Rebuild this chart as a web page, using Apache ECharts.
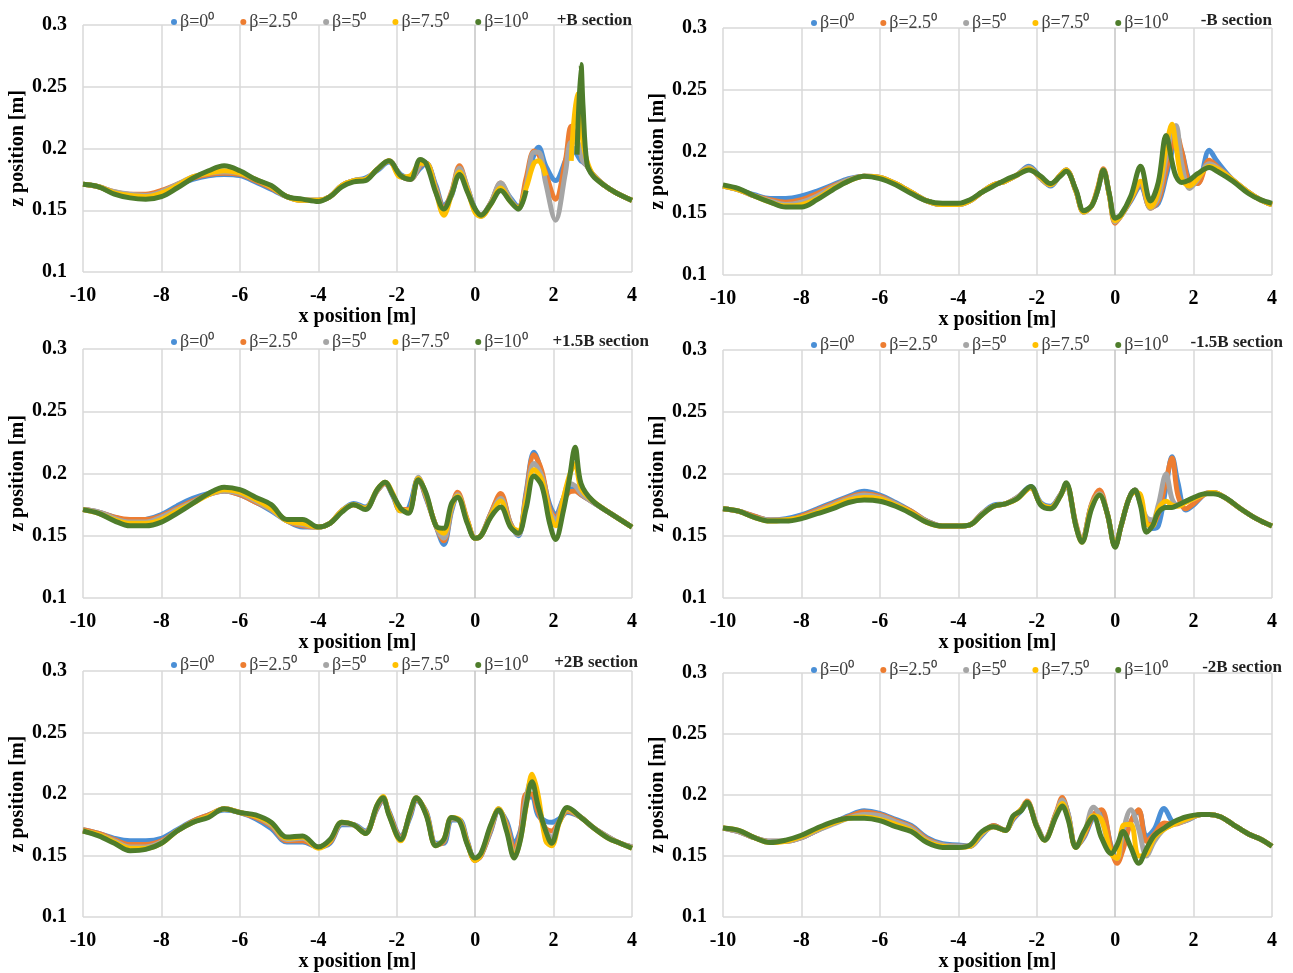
<!DOCTYPE html>
<html>
<head>
<meta charset="utf-8">
<title>z position vs x position</title>
<script src="https://cdn.jsdelivr.net/npm/echarts@6/dist/echarts.min.js"></script>
<style>
  html, body { margin: 0; background: #fff; }
  #main { width: 1293px; height: 973px; }
</style>
</head>
<body>
<div id="main"></div>
<script>
// legend names and colours
var betaNames = ['β=0⁰', 'β=2.5⁰', 'β=5⁰', 'β=7.5⁰', 'β=10⁰'];
var betaColors = ['#4a8fd6', '#ed7d31', '#a5a5a5', '#ffc000', '#4e7d2b'];

// +B section
var xPB = [-10,-9.6,-9.2,-8.8,-8.4,-8,-7.6,-7.2,-6.8,-6.4,-6,-5.6,-5.2,-4.8,-4.4,-4,-3.7,-3.4,-3.1,-2.8,-2.5,-2.2,-1.9,-1.65,-1.4,-1.25,-1,-0.8,-0.6,-0.4,-0.2,0,0.15,0.4,0.65,0.9,1.1,1.3,1.5,1.62,1.8,2.05,2.3,2.45,2.6,2.7,2.75,2.85,3,3.3,3.6,4];
var zPB_b0 = [0.171,0.169,0.164,0.162,0.162,0.165,0.170,0.175,0.178,0.179,0.178,0.173,0.167,0.161,0.158,0.158,0.161,0.170,0.174,0.176,0.182,0.189,0.179,0.176,0.184,0.188,0.170,0.154,0.162,0.183,0.168,0.151,0.146,0.156,0.170,0.160,0.153,0.172,0.195,0.201,0.186,0.174,0.190,0.202,0.195,0.190,0.189,0.186,0.179,0.170,0.164,0.158];
var zPB_b25 = [0.171,0.169,0.165,0.163,0.163,0.166,0.171,0.176,0.179,0.180,0.179,0.174,0.168,0.161,0.158,0.158,0.161,0.170,0.174,0.175,0.183,0.190,0.178,0.175,0.186,0.188,0.168,0.152,0.165,0.186,0.168,0.150,0.146,0.156,0.172,0.158,0.152,0.176,0.198,0.195,0.180,0.159,0.190,0.218,0.205,0.195,0.190,0.186,0.179,0.170,0.164,0.158];
var zPB_b5 = [0.171,0.169,0.165,0.163,0.162,0.165,0.171,0.177,0.180,0.181,0.180,0.175,0.169,0.161,0.158,0.158,0.161,0.170,0.174,0.175,0.183,0.190,0.178,0.175,0.187,0.188,0.167,0.150,0.164,0.184,0.169,0.150,0.145,0.156,0.172,0.159,0.151,0.170,0.197,0.197,0.172,0.142,0.180,0.205,0.205,0.195,0.190,0.186,0.179,0.170,0.164,0.158];
var zPB_b75 = [0.171,0.169,0.164,0.162,0.161,0.164,0.170,0.177,0.180,0.182,0.180,0.175,0.169,0.161,0.158,0.158,0.161,0.170,0.174,0.175,0.183,0.190,0.177,0.178,0.188,0.188,0.165,0.146,0.163,0.181,0.167,0.148,0.145,0.155,0.168,0.157,0.152,0.168,0.188,0.190,0.178,null,null,0.190,0.244,0.220,0.205,0.190,0.179,0.170,0.164,0.158];
var zPB_b10 = [0.171,0.169,0.163,0.160,0.159,0.161,0.168,0.176,0.182,0.186,0.182,0.175,0.170,0.161,0.159,0.157,0.161,0.169,0.173,0.174,0.183,0.190,0.178,0.175,0.191,0.188,0.164,0.151,0.163,0.179,0.165,0.151,0.146,0.155,0.166,0.157,0.151,0.166,null,null,null,null,null,null,0.195,0.268,0.235,0.188,0.178,0.170,0.164,0.158];

// -B section
var xMB = [-10,-9.6,-9.2,-8.8,-8.4,-8,-7.6,-7.2,-6.8,-6.4,-6,-5.6,-5.2,-4.8,-4.4,-4,-3.7,-3.4,-3.1,-2.8,-2.5,-2.2,-1.9,-1.65,-1.4,-1.25,-1,-0.8,-0.6,-0.45,-0.3,-0.15,0,0.15,0.4,0.65,0.9,1.1,1.3,1.45,1.55,1.7,1.9,2.1,2.4,2.6,3,3.4,3.7,4];
var zMB_b0 = [0.172,0.169,0.165,0.162,0.162,0.164,0.168,0.173,0.178,0.180,0.179,0.174,0.167,0.160,0.157,0.157,0.160,0.167,0.173,0.176,0.181,0.188,0.179,0.172,0.181,0.185,0.168,0.151,0.156,0.168,0.184,0.165,0.144,0.148,0.160,0.172,0.155,0.158,0.180,0.200,0.210,0.200,0.176,0.174,0.201,0.192,0.177,0.167,0.161,0.157];
var zMB_b25 = [0.172,0.169,0.164,0.161,0.159,0.161,0.166,0.172,0.177,0.180,0.179,0.174,0.167,0.160,0.157,0.157,0.160,0.167,0.173,0.176,0.181,0.187,0.178,0.173,0.181,0.185,0.168,0.151,0.156,0.170,0.186,0.165,0.142,0.148,0.161,0.174,0.154,0.160,0.185,0.205,0.215,0.200,0.175,0.174,0.193,0.188,0.177,0.167,0.161,0.157];
var zMB_b5 = [0.172,0.169,0.164,0.160,0.157,0.159,0.164,0.171,0.177,0.180,0.179,0.174,0.167,0.160,0.157,0.157,0.160,0.167,0.173,0.176,0.181,0.187,0.178,0.173,0.181,0.185,0.168,0.151,0.156,0.169,0.185,0.165,0.143,0.148,0.162,0.175,0.154,0.163,0.195,0.217,0.221,0.190,0.170,0.177,0.190,0.187,0.177,0.167,0.161,0.157];
var zMB_b75 = [0.172,0.169,0.164,0.159,0.156,0.157,0.162,0.170,0.176,0.180,0.179,0.174,0.167,0.160,0.157,0.157,0.160,0.167,0.173,0.176,0.181,0.186,0.179,0.173,0.181,0.185,0.168,0.151,0.156,0.169,0.185,0.165,0.144,0.148,0.162,0.176,0.155,0.168,0.203,0.222,0.205,0.178,0.172,0.178,0.188,0.186,0.177,0.167,0.161,0.157];
var zMB_b10 = [0.173,0.170,0.164,0.159,0.155,0.155,0.161,0.169,0.176,0.180,0.178,0.173,0.166,0.160,0.158,0.158,0.161,0.167,0.172,0.177,0.181,0.185,0.180,0.174,0.180,0.184,0.169,0.152,0.156,0.168,0.185,0.166,0.146,0.149,0.164,0.188,0.160,0.175,0.213,0.192,0.180,0.175,0.177,0.182,0.187,0.184,0.176,0.166,0.161,0.158];

// +1.5B section
var xP15 = [-10,-9.6,-9.2,-8.8,-8.4,-8,-7.6,-7.2,-6.8,-6.4,-6,-5.6,-5.2,-4.8,-4.4,-4,-3.7,-3.4,-3.1,-2.8,-2.5,-2.3,-2.1,-1.9,-1.7,-1.45,-1.25,-1,-0.8,-0.6,-0.45,-0.2,0,0.15,0.4,0.65,0.9,1.1,1.3,1.5,1.7,1.9,2.05,2.25,2.4,2.55,2.7,3,3.5,4];
var zP15_b0 = [0.171,0.169,0.165,0.162,0.163,0.167,0.174,0.180,0.184,0.186,0.183,0.177,0.170,0.162,0.157,0.157,0.160,0.170,0.176,0.173,0.186,0.192,0.182,0.170,0.172,0.196,0.180,0.158,0.143,0.170,0.182,0.162,0.148,0.150,0.168,0.182,0.160,0.150,0.185,0.217,0.200,0.175,0.167,0.180,0.188,0.187,0.183,0.177,0.167,0.157];
var zP15_b25 = [0.171,0.169,0.165,0.163,0.163,0.166,0.172,0.178,0.183,0.186,0.183,0.177,0.171,0.162,0.158,0.157,0.160,0.170,0.175,0.172,0.186,0.192,0.183,0.171,0.171,0.196,0.181,0.158,0.146,0.172,0.185,0.163,0.148,0.150,0.168,0.184,0.160,0.151,0.183,0.215,0.202,0.172,0.165,0.178,0.185,0.186,0.183,0.177,0.167,0.157];
var zP15_b5 = [0.171,0.169,0.164,0.161,0.161,0.165,0.171,0.177,0.183,0.186,0.184,0.178,0.171,0.162,0.159,0.157,0.160,0.170,0.175,0.172,0.186,0.193,0.183,0.171,0.170,0.197,0.182,0.158,0.148,0.172,0.183,0.162,0.148,0.150,0.167,0.180,0.159,0.151,0.180,0.208,0.198,0.170,0.163,0.180,0.192,0.190,0.184,0.177,0.167,0.157];
var zP15_b75 = [0.171,0.168,0.163,0.160,0.160,0.163,0.170,0.176,0.183,0.187,0.185,0.179,0.172,0.162,0.160,0.157,0.160,0.170,0.175,0.172,0.187,0.193,0.184,0.170,0.170,0.196,0.183,0.158,0.152,0.174,0.182,0.162,0.148,0.150,0.166,0.178,0.158,0.154,0.178,0.203,0.195,0.168,0.158,0.180,0.198,0.208,0.188,0.178,0.167,0.157];
var zP15_b10 = [0.171,0.168,0.162,0.158,0.158,0.161,0.168,0.176,0.184,0.189,0.187,0.181,0.175,0.163,0.163,0.157,0.160,0.169,0.175,0.171,0.187,0.193,0.183,0.172,0.168,0.195,0.184,0.158,0.156,0.176,0.181,0.160,0.148,0.150,0.165,0.173,0.157,0.152,0.172,0.198,0.190,0.160,0.147,0.170,0.195,0.221,0.192,0.178,0.167,0.157];

// -1.5B section
var xM15 = [-10,-9.6,-9.2,-8.8,-8.4,-8,-7.6,-7.2,-6.8,-6.4,-6,-5.6,-5.2,-4.8,-4.4,-4,-3.7,-3.4,-3.1,-2.8,-2.5,-2.15,-1.9,-1.65,-1.4,-1.25,-1,-0.85,-0.6,-0.4,-0.2,0,0.15,0.35,0.5,0.65,0.8,0.95,1.1,1.3,1.45,1.6,1.8,2,2.3,2.5,2.8,3.2,3.6,4];
var zM15_b0 = [0.172,0.170,0.166,0.163,0.164,0.167,0.172,0.177,0.182,0.186,0.183,0.177,0.170,0.162,0.158,0.158,0.159,0.168,0.175,0.176,0.181,0.190,0.177,0.174,0.183,0.190,0.158,0.146,0.175,0.183,0.168,0.142,0.158,0.180,0.187,0.176,0.162,0.156,0.158,0.190,0.214,0.193,0.171,0.175,0.184,0.185,0.181,0.172,0.164,0.158];
var zM15_b25 = [0.172,0.170,0.166,0.163,0.163,0.166,0.171,0.176,0.181,0.184,0.182,0.176,0.170,0.162,0.158,0.158,0.159,0.168,0.174,0.176,0.181,0.189,0.176,0.173,0.183,0.191,0.160,0.146,0.176,0.187,0.168,0.142,0.158,0.180,0.187,0.176,0.163,0.160,0.168,0.195,0.213,0.183,0.172,0.176,0.184,0.185,0.181,0.172,0.164,0.158];
var zM15_b5 = [0.172,0.170,0.165,0.163,0.163,0.165,0.170,0.175,0.180,0.183,0.181,0.176,0.169,0.162,0.158,0.158,0.159,0.168,0.174,0.176,0.181,0.189,0.176,0.173,0.183,0.191,0.159,0.146,0.175,0.184,0.168,0.142,0.158,0.180,0.187,0.176,0.165,0.163,0.175,0.200,0.180,0.175,0.178,0.180,0.184,0.185,0.181,0.172,0.164,0.158];
var zM15_b75 = [0.172,0.170,0.165,0.162,0.163,0.165,0.169,0.174,0.179,0.181,0.180,0.175,0.169,0.161,0.158,0.158,0.159,0.167,0.174,0.176,0.180,0.189,0.176,0.173,0.182,0.192,0.158,0.145,0.174,0.183,0.168,0.142,0.158,0.180,0.185,0.183,0.160,0.158,0.172,0.178,0.175,0.174,0.177,0.180,0.184,0.185,0.181,0.172,0.164,0.158];
var zM15_b10 = [0.172,0.170,0.165,0.162,0.162,0.164,0.168,0.172,0.177,0.179,0.178,0.174,0.168,0.161,0.158,0.158,0.159,0.167,0.174,0.176,0.180,0.190,0.175,0.172,0.182,0.193,0.158,0.145,0.172,0.183,0.168,0.141,0.158,0.180,0.187,0.174,0.153,0.158,0.169,0.173,0.173,0.175,0.178,0.181,0.184,0.184,0.181,0.172,0.164,0.158];

// +2B section
var xP2 = [-10,-9.6,-9.2,-8.8,-8.4,-8,-7.6,-7.2,-6.8,-6.4,-6,-5.6,-5.2,-4.8,-4.4,-4,-3.7,-3.4,-3.1,-2.8,-2.5,-2.35,-2.2,-1.9,-1.65,-1.5,-1.25,-1,-0.8,-0.6,-0.4,-0.2,0,0.15,0.4,0.6,0.8,1,1.15,1.3,1.45,1.6,1.8,1.95,2.15,2.35,2.7,3,3.4,3.7,4];
var zP2_b0 = [0.171,0.168,0.164,0.162,0.162,0.164,0.171,0.178,0.183,0.187,0.185,0.180,0.172,0.161,0.161,0.157,0.160,0.175,0.175,0.170,0.188,0.195,0.186,0.166,0.182,0.195,0.186,0.160,0.160,0.179,0.179,0.162,0.146,0.150,0.170,0.186,0.178,0.160,0.170,0.195,0.198,0.183,0.178,0.177,0.180,0.185,0.181,0.173,0.165,0.160,0.157];
var zP2_b25 = [0.171,0.168,0.163,0.159,0.159,0.162,0.170,0.178,0.183,0.188,0.185,0.181,0.174,0.162,0.162,0.157,0.161,0.176,0.175,0.169,0.189,0.196,0.185,0.165,0.184,0.196,0.185,0.159,0.161,0.180,0.179,0.161,0.146,0.150,0.171,0.187,0.176,0.155,0.168,0.200,0.200,0.186,0.172,0.170,0.178,0.186,0.181,0.173,0.165,0.160,0.157];
var zP2_b5 = [0.170,0.167,0.162,0.157,0.157,0.161,0.170,0.177,0.182,0.188,0.185,0.182,0.175,0.163,0.164,0.157,0.162,0.176,0.175,0.169,0.190,0.197,0.184,0.164,0.185,0.197,0.184,0.159,0.162,0.180,0.179,0.160,0.147,0.151,0.172,0.188,0.174,0.151,0.165,0.197,0.213,0.192,0.170,0.165,0.178,0.187,0.181,0.173,0.165,0.160,0.157];
var zP2_b75 = [0.170,0.167,0.161,0.156,0.156,0.160,0.170,0.177,0.182,0.188,0.185,0.182,0.176,0.164,0.165,0.156,0.162,0.177,0.175,0.168,0.191,0.198,0.184,0.162,0.186,0.197,0.184,0.158,0.163,0.181,0.179,0.160,0.146,0.151,0.174,0.188,0.172,0.149,0.163,0.190,0.216,0.200,0.162,0.158,0.177,0.188,0.181,0.173,0.164,0.160,0.156];
var zP2_b10 = [0.170,0.166,0.160,0.154,0.155,0.160,0.170,0.177,0.181,0.188,0.185,0.183,0.177,0.165,0.166,0.157,0.163,0.177,0.175,0.168,0.191,0.197,0.183,0.163,0.186,0.197,0.183,0.158,0.163,0.181,0.178,0.159,0.148,0.152,0.175,0.187,0.170,0.148,0.162,0.191,0.210,0.191,0.170,0.160,0.178,0.189,0.181,0.173,0.164,0.160,0.156];

// -2B section
var xM2 = [-10,-9.6,-9.2,-8.8,-8.4,-8,-7.6,-7.2,-6.8,-6.4,-6,-5.6,-5.2,-4.8,-4.4,-4,-3.7,-3.4,-3.1,-2.8,-2.6,-2.4,-2.25,-2,-1.8,-1.5,-1.35,-1.2,-1,-0.8,-0.55,-0.35,-0.1,0.05,0.2,0.4,0.6,0.8,1,1.25,1.5,1.8,2.2,2.4,2.7,3,3.4,3.7,4];
var zM2_b0 = [0.173,0.170,0.165,0.162,0.162,0.165,0.171,0.177,0.183,0.187,0.185,0.180,0.175,0.165,0.160,0.159,0.158,0.167,0.175,0.171,0.180,0.187,0.193,0.175,0.164,0.185,0.196,0.185,0.158,0.165,0.182,0.185,0.158,0.146,0.158,0.178,0.187,0.166,0.172,0.189,0.178,0.179,0.184,0.184,0.182,0.176,0.168,0.164,0.158];
var zM2_b25 = [0.173,0.170,0.165,0.162,0.162,0.165,0.171,0.177,0.182,0.186,0.184,0.179,0.174,0.164,0.159,0.158,0.158,0.168,0.175,0.171,0.181,0.188,0.195,0.175,0.164,0.186,0.198,0.184,0.158,0.166,0.184,0.188,0.156,0.144,0.155,0.178,0.188,0.162,0.168,0.177,0.176,0.179,0.184,0.184,0.182,0.176,0.168,0.164,0.158];
var zM2_b5 = [0.173,0.170,0.165,0.162,0.162,0.165,0.171,0.176,0.181,0.184,0.183,0.178,0.173,0.163,0.159,0.158,0.158,0.168,0.174,0.171,0.182,0.188,0.194,0.175,0.164,0.185,0.196,0.184,0.158,0.167,0.190,0.180,0.152,0.148,0.170,0.188,0.172,0.150,0.162,0.172,0.176,0.179,0.184,0.184,0.182,0.176,0.168,0.164,0.158];
var zM2_b75 = [0.173,0.171,0.165,0.161,0.162,0.166,0.172,0.177,0.181,0.182,0.180,0.176,0.171,0.162,0.158,0.157,0.158,0.169,0.174,0.171,0.182,0.188,0.194,0.174,0.163,0.184,0.193,0.182,0.157,0.168,0.183,0.180,0.152,0.148,0.175,0.176,0.150,0.152,0.165,0.172,0.176,0.180,0.184,0.184,0.182,0.176,0.168,0.164,0.158];
var zM2_b10 = [0.173,0.171,0.165,0.161,0.163,0.167,0.173,0.178,0.181,0.181,0.179,0.174,0.170,0.161,0.157,0.157,0.159,0.170,0.174,0.171,0.183,0.187,0.194,0.174,0.163,0.183,0.191,0.180,0.157,0.170,0.182,0.165,0.152,0.159,0.170,0.157,0.144,0.156,0.167,0.173,0.178,0.182,0.184,0.184,0.182,0.176,0.168,0.164,0.158];

var xTicks = [-10, -8, -6, -4, -2, 0, 2, 4];
var yTicks = [0.1, 0.15, 0.2, 0.25, 0.3];

// panel boxes, legend and section labels
var panels = [
  { x: xPB,  z: [zPB_b0, zPB_b25, zPB_b5, zPB_b75, zPB_b10],      title: '+B section',    left: 83,  top: 25,  height: 247, titleRight: 661, titleTop: 12,  legendTop: 8 },
  { x: xMB,  z: [zMB_b0, zMB_b25, zMB_b5, zMB_b75, zMB_b10],      title: '-B section',    left: 723, top: 28,  height: 247, titleRight: 21,  titleTop: 12,  legendTop: 9 },
  { x: xP15, z: [zP15_b0, zP15_b25, zP15_b5, zP15_b75, zP15_b10], title: '+1.5B section', left: 83,  top: 349, height: 249, titleRight: 644, titleTop: 333, legendTop: 328 },
  { x: xM15, z: [zM15_b0, zM15_b25, zM15_b5, zM15_b75, zM15_b10], title: '-1.5B section', left: 723, top: 350, height: 248, titleRight: 10,  titleTop: 334, legendTop: 331 },
  { x: xP2,  z: [zP2_b0, zP2_b25, zP2_b5, zP2_b75, zP2_b10],      title: '+2B section',   left: 83,  top: 671, height: 249, titleRight: 655, titleTop: 654, legendTop: 651 },
  { x: xM2,  z: [zM2_b0, zM2_b25, zM2_b5, zM2_b75, zM2_b10],      title: '-2B section',   left: 723, top: 673, height: 244, titleRight: 11,  titleTop: 659, legendTop: 656 }
];

var serif = '"Liberation Serif", "Times New Roman", serif';
var gridColor = '#d9d9d9';

function pairs(xs, zs) {
  return xs.map(function (x, i) { return [x, zs[i]]; });
}

var grids = [], xAxes = [], yAxes = [], series = [], legends = [], titles = [];

panels.forEach(function (p, i) {
  grids.push({ left: p.left, top: p.top, width: 549, height: p.height, containLabel: false });
  xAxes.push({
    type: 'value', gridIndex: i, min: xTicks[0], max: xTicks[xTicks.length - 1], interval: 2,
    name: 'x position [m]', nameLocation: 'middle', nameGap: 29,
    nameTextStyle: { fontFamily: serif, fontWeight: 'bold', fontSize: 20, color: '#000' },
    axisLine: { show: false }, axisTick: { show: false },
    axisLabel: { margin: 14, fontFamily: serif, fontWeight: 'bold', fontSize: 20, color: '#000' },
    splitLine: { show: true, lineStyle: { width: 1.5, color: [gridColor, gridColor, gridColor, gridColor, gridColor, '#c4c4c4', gridColor, gridColor] } }
  });
  yAxes.push({
    type: 'value', gridIndex: i, min: yTicks[0], max: yTicks[yTicks.length - 1], interval: 0.05,
    name: 'z position [m]', nameLocation: 'middle', nameGap: 52, nameRotate: 90,
    nameTextStyle: { fontFamily: serif, fontWeight: 'bold', fontSize: 20, color: '#000' },
    axisLine: { show: false }, axisTick: { show: false },
    axisLabel: { margin: 16, fontFamily: serif, fontWeight: 'bold', fontSize: 20, color: '#000' },
    splitLine: { show: true, lineStyle: { width: 1.5, color: gridColor } }
  });
  legends.push({
    data: betaNames, left: p.left + 83, top: p.legendTop,
    icon: 'circle', itemWidth: 6, itemHeight: 6, itemGap: 26,
    textStyle: { fontFamily: serif, fontSize: 18, color: '#404040', padding: [0, 0, 0, -2] },
    selectedMode: false
  });
  titles.push({
    text: p.title, right: p.titleRight, top: p.titleTop, padding: 0,
    textStyle: { fontFamily: serif, fontWeight: 'bold', fontSize: 17, color: '#222' }
  });
  p.z.forEach(function (zs, k) {
    series.push({
      type: 'line', name: betaNames[k], xAxisIndex: i, yAxisIndex: i,
      data: pairs(p.x, zs), showSymbol: false, smooth: 0.35, connectNulls: false,
      color: betaColors[k], lineStyle: { width: 5, color: betaColors[k] },
      emphasis: { disabled: true }, silent: true
    });
  });
});

var chart = echarts.init(document.getElementById('main'), null, { renderer: 'canvas' });
chart.setOption({
  backgroundColor: '#fff',
  animation: false,
  title: titles,
  legend: legends,
  grid: grids,
  xAxis: xAxes,
  yAxis: yAxes,
  series: series
});
</script>
</body>
</html>
